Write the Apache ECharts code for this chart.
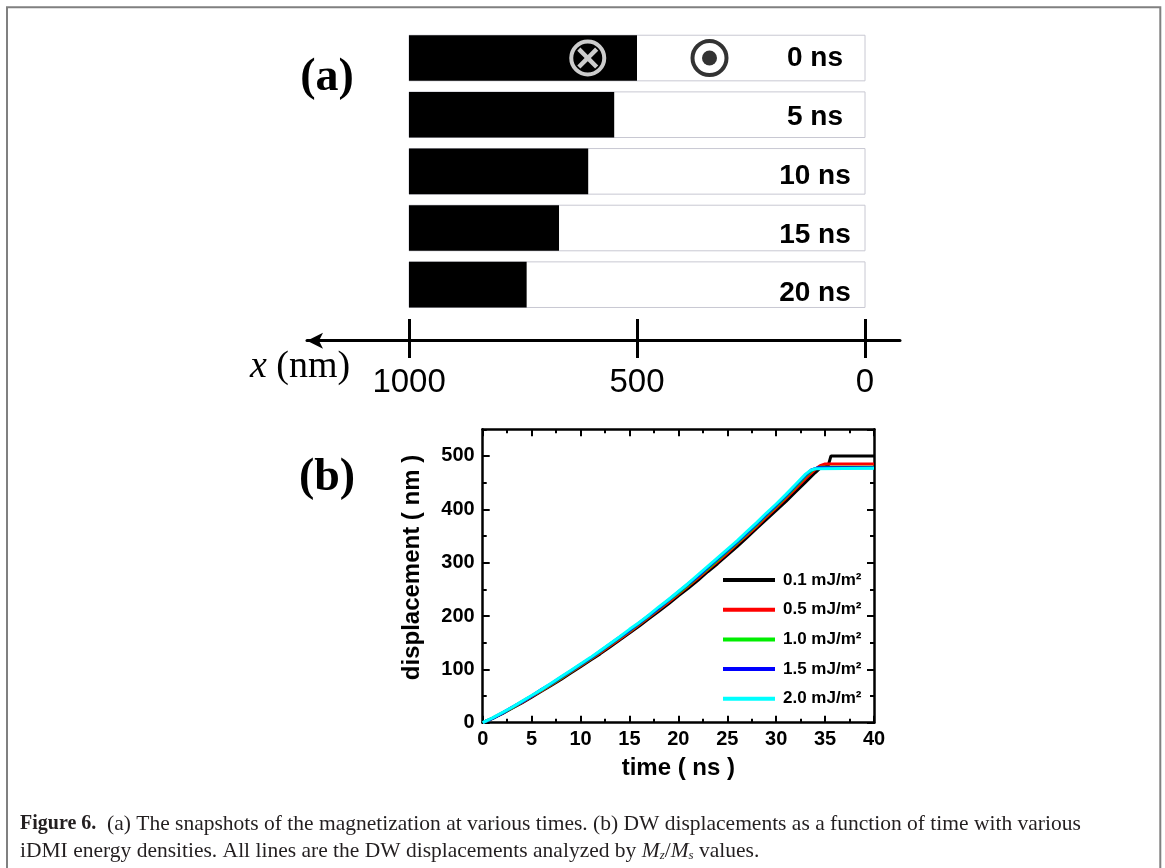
<!DOCTYPE html>
<html>
<head>
<meta charset="utf-8">
<script src="https://cdn.jsdelivr.net/npm/echarts@6/dist/echarts.min.js"></script>
<style>
html,body{margin:0;padding:0;background:#fff;}
#main{width:1165px;height:868px;}
</style>
</head>
<body>
<div id="main"></div>
<script>
// ---------------- data ----------------
// (a) snapshots
const snapshotTimes = ['0 ns', '5 ns', '10 ns', '15 ns', '20 ns'];
const wallPosition = [500, 550, 607, 671, 742];          // nm, DW position (black = from wall to 1000 nm)
const positionTicks = [0, 500, 1000];
const stripLength = 1000;
const crossMarkerPos = [608, 0];   // ⊗ (x nm, row index)
const dotMarkerPos = [341, 0];     // ⊙ (x nm, row index)

// (b) DW displacement vs time
const idmiLabels = ['0.1 mJ/m²', '0.5 mJ/m²', '1.0 mJ/m²', '1.5 mJ/m²', '2.0 mJ/m²'];
const disp01 = [[0,0],[1,8],[2,17],[3,27],[4,37],[5,48],[6,59],[7,70],[8,81],[9,93],[10,105],[11,117],[12,129],[13,142],[14,155],[15,168],[16,181],[17,195],[18,209],[19,223],[20,238],[21,252],[22,267],[23,283],[24,298],[25,314],[26,330],[27,347],[28,364],[29,381],[30,398],[31,415],[32,433],[33,451],[34,469],[34.5,477],[35,480],[35.3,481],[35.6,500],[40,500]];
const disp05 = [[0,0],[1,8],[2,18],[3,28],[4,38],[5,49],[6,60],[7,71],[8,83],[9,95],[10,107],[11,119],[12,131],[13,144],[14,157],[15,170],[16,184],[17,198],[18,212],[19,226],[20,241],[21,256],[22,271],[23,287],[24,302],[25,318],[26,335],[27,351],[28,368],[29,386],[30,403],[31,421],[32,439],[33,458],[34,475],[34.5,482],[35,485],[40,485]];
const disp10 = [[0,0],[1,8],[2,18],[3,28],[4,39],[5,50],[6,61],[7,72],[8,84],[9,96],[10,108],[11,120],[12,133],[13,146],[14,159],[15,172],[16,186],[17,200],[18,214],[19,229],[20,243],[21,258],[22,274],[23,289],[24,305],[25,321],[26,337],[27,354],[28,371],[29,389],[30,406],[31,424],[32,443],[33,462],[33.8,475],[34.5,479],[40,479]];
const disp15 = [[0,0],[1,8],[2,18],[3,29],[4,39],[5,50],[6,62],[7,73],[8,85],[9,97],[10,109],[11,121],[12,134],[13,147],[14,160],[15,173],[16,187],[17,201],[18,215],[19,230],[20,245],[21,260],[22,275],[23,291],[24,307],[25,323],[26,339],[27,356],[28,373],[29,391],[30,408],[31,426],[32,445],[33,464],[33.6,474],[34.3,478],[40,478]];
const disp20 = [[0,0],[1,9],[2,19],[3,29],[4,40],[5,51],[6,62],[7,74],[8,86],[9,98],[10,110],[11,122],[12,135],[13,148],[14,161],[15,175],[16,188],[17,202],[18,217],[19,231],[20,246],[21,261],[22,277],[23,293],[24,309],[25,325],[26,341],[27,358],[28,375],[29,393],[30,410],[31,428],[32,447],[33,466],[33.5,473],[34,476],[40,477]];
const lineColors = ['#000000', '#ff0000', '#00ee00', '#0000ff', '#00ffff'];
const timeTicks = {min: 0, max: 40, interval: 5, minorInterval: 2.5};
const dispTicks = {min: 0, max: 550, interval: 100, minorInterval: 50};

// ---------------- chart ----------------
const chart = echarts.init(document.getElementById('main'), null, {renderer: 'canvas'});
const SANS = 'Liberation Sans';
const SERIF = 'Liberation Serif';
const labelShift = [0, 6, 10, 14, 18];
const rowRich = {};
labelShift.forEach((p, i) => {
  rowRich['r' + i] = {fontFamily: SANS, fontWeight: 'bold', fontSize: 28, color: '#000', padding: [p, 0, 0, 0]};
});

const allDisp = [disp01, disp05, disp10, disp15, disp20];
const frameLine = {onZero: false, lineStyle: {color: '#000', width: 2.5}};
const noLine = {show: false, onZero: false};
const majorTick = {inside: true, length: 7, lineStyle: {color: '#000', width: 2}};
const minorTickStyle = {inside: true, length: 4, lineStyle: {color: '#000', width: 2}};
const tickFont = {fontFamily: SANS, fontWeight: 'bold', fontSize: 20, color: '#000'};

function timeAxis(pos, major, extra) {
  return Object.assign({gridIndex: 1, type: 'value', position: pos, min: timeTicks.min, max: timeTicks.max,
    interval: major ? timeTicks.interval : timeTicks.minorInterval,
    axisLine: major ? frameLine : noLine, axisTick: major ? majorTick : minorTickStyle,
    axisLabel: {show: false}, splitLine: {show: false}}, extra || {});
}
function dispAxis(pos, major, extra) {
  return Object.assign({gridIndex: 1, type: 'value', position: pos, min: dispTicks.min, max: dispTicks.max,
    interval: major ? dispTicks.interval : dispTicks.minorInterval,
    axisLine: major ? frameLine : noLine, axisTick: major ? majorTick : minorTickStyle,
    axisLabel: {show: false}, splitLine: {show: false}}, extra || {});
}

const option = {
  animation: false,
  backgroundColor: '#fff',
  grid: [
    {left: 409, top: 29.7, width: 456, height: 283.3},     // (a) strips
    {left: 482.7, top: 429.3, width: 391.3, height: 293.4}, // (b) plot
    {left: 307, top: 319, width: 593, height: 39},           // (a) position axis ticks
    {left: 307, top: 300, width: 593, height: 40.7}          // (a) position axis line
  ],
  xAxis: [
    {gridIndex: 0, type: 'value', min: 0, max: stripLength, inverse: true, show: false},
    timeAxis('bottom', true, {
      name: 'time ( ns )', nameLocation: 'middle', nameGap: 34,
      nameTextStyle: {fontFamily: SANS, fontWeight: 'bold', fontSize: 24, color: '#000'},
      axisLabel: Object.assign({show: true, margin: 7}, tickFont)}),
    timeAxis('bottom', false),
    timeAxis('top', true),
    timeAxis('top', false),
    {gridIndex: 2, type: 'value', min: -77, max: 1224, inverse: true,
     axisLine: {show: false},
     axisTick: {show: true, inside: true, length: 39, customValues: positionTicks, lineStyle: {color: '#000', width: 3}},
     axisLabel: {show: true, customValues: positionTicks, formatter: v => String(v), fontFamily: SANS, fontSize: 33, color: '#000', margin: 8},
     splitLine: {show: false}},
    {gridIndex: 3, type: 'value', min: -77, max: 1224, inverse: true,
     axisLine: {show: true, onZero: false, symbol: ['arrow', 'none'], symbolSize: [12, 16], lineStyle: {color: '#000', width: 3}},
     axisTick: {show: false}, axisLabel: {show: false}, splitLine: {show: false}}
  ],
  yAxis: [
    {gridIndex: 0, type: 'category', data: snapshotTimes, inverse: true, position: 'right', z: 10,
     axisLine: {show: false}, axisTick: {show: false}, splitLine: {show: false},
     axisLabel: {inside: true, align: 'center', margin: 50,
       formatter: (v, i) => '{r' + i + '|' + v + '}', rich: rowRich}},
    dispAxis('left', true, {
      name: 'displacement ( nm )', nameLocation: 'middle', nameGap: 58,
      nameTextStyle: {fontFamily: SANS, fontWeight: 'bold', fontSize: 24, color: '#000', padding: [0, 0, 0, 17]},
      axisLabel: Object.assign({show: true, margin: 8, showMaxLabel: false, formatter: v => (v > 500 ? '' : String(v))}, tickFont)}),
    dispAxis('left', false),
    dispAxis('right', true),
    dispAxis('right', false),
    {gridIndex: 2, type: 'value', show: false},
    {gridIndex: 3, type: 'value', show: false}
  ],
  legend: {
    data: idmiLabels,
    orient: 'vertical', left: 723, top: 570, padding: 0,
    icon: 'rect', itemWidth: 52, itemHeight: 4, itemGap: 9.7,
    textStyle: {fontFamily: SANS, fontWeight: 'bold', fontSize: 17, color: '#000', lineHeight: 20, padding: [0, 0, 0, 3]}
  },
  series: [
    {type: 'bar', name: 'white', xAxisIndex: 0, yAxisIndex: 0, stack: 'strip', barWidth: 45.6,
     data: wallPosition, itemStyle: {color: 'rgba(0,0,0,0)'},
     showBackground: true, backgroundStyle: {color: '#fff', borderColor: '#c8c8d2', borderWidth: 1}, silent: true},
    {type: 'bar', name: 'black', xAxisIndex: 0, yAxisIndex: 0, stack: 'strip', barWidth: 45.6,
     data: wallPosition.map(p => stripLength - p), itemStyle: {color: '#000'}, silent: true},
    {type: 'scatter', xAxisIndex: 0, yAxisIndex: 0, data: [crossMarkerPos], symbol: 'circle', symbolSize: 33,
     itemStyle: {color: 'rgba(0,0,0,0)', borderColor: '#fff', borderWidth: 4}, z: 5},
    {type: 'scatter', xAxisIndex: 0, yAxisIndex: 0, data: [crossMarkerPos],
     symbol: 'path://M1.5,0 L5,3.5 L8.5,0 L10,1.5 L6.5,5 L10,8.5 L8.5,10 L5,6.5 L1.5,10 L0,8.5 L3.5,5 L0,1.5 Z', symbolSize: 21,
     itemStyle: {color: '#fff'}, z: 5},
    {type: 'scatter', xAxisIndex: 0, yAxisIndex: 0, data: [dotMarkerPos], symbol: 'circle', symbolSize: 34,
     itemStyle: {color: '#fff', borderColor: '#000', borderWidth: 4}, z: 5},
    {type: 'scatter', xAxisIndex: 0, yAxisIndex: 0, data: [dotMarkerPos], symbol: 'circle', symbolSize: 15,
     itemStyle: {color: '#000'}, z: 6}
  ].concat(allDisp.map((d, i) => ({
    type: 'line', name: idmiLabels[i], xAxisIndex: 1, yAxisIndex: 1, data: d,
    showSymbol: false, symbol: 'none', color: lineColors[i],
    lineStyle: {color: lineColors[i], width: 3}, z: 2 + i
  }))),
  graphic: [
    {type: 'rect', shape: {x: 7, y: 7.3, width: 1153.3, height: 900}, style: {fill: 'none', stroke: '#808080', lineWidth: 2}},
    {type: 'text', x: 327, y: 78, style: {text: '(a)', font: 'bold 46px "Liberation Serif"', fill: '#000', textAlign: 'center', textVerticalAlign: 'middle'}},
    {type: 'text', x: 327, y: 478, style: {text: '(b)', font: 'bold 46px "Liberation Serif"', fill: '#000', textAlign: 'center', textVerticalAlign: 'middle'}},
    {type: 'text', x: 250, y: 367, style: {text: '{i|x} (nm)', font: '38px "Liberation Serif"', fill: '#000', textVerticalAlign: 'middle',
      rich: {i: {fontStyle: 'italic', fontFamily: SERIF, fontSize: 38}}}},
    {type: 'text', x: 20, y: 824, style: {
      text: '{b|Figure 6.}  (a) The snapshots of the magnetization at various times. (b) DW displacements as a function of time with various',
      font: '21.5px "Liberation Serif"', fill: '#231f20', textVerticalAlign: 'middle',
      rich: {b: {fontWeight: 'bold', fontFamily: SERIF, fontSize: 20}}}},
    {type: 'text', x: 20, y: 851, style: {
      text: 'iDMI energy densities. All lines are the DW displacements analyzed by {i|M}{s|z}/{i|M}{s|s} values.',
      font: '21.5px "Liberation Serif"', fill: '#231f20', textVerticalAlign: 'middle',
      rich: {i: {fontStyle: 'italic', fontFamily: SERIF, fontSize: 21.5}, s: {fontStyle: 'italic', fontFamily: SERIF, fontSize: 13, verticalAlign: 'bottom', padding: [7, 0, 0, 0]}}}}
  ]
};
chart.setOption(option);
</script>
</body>
</html>
